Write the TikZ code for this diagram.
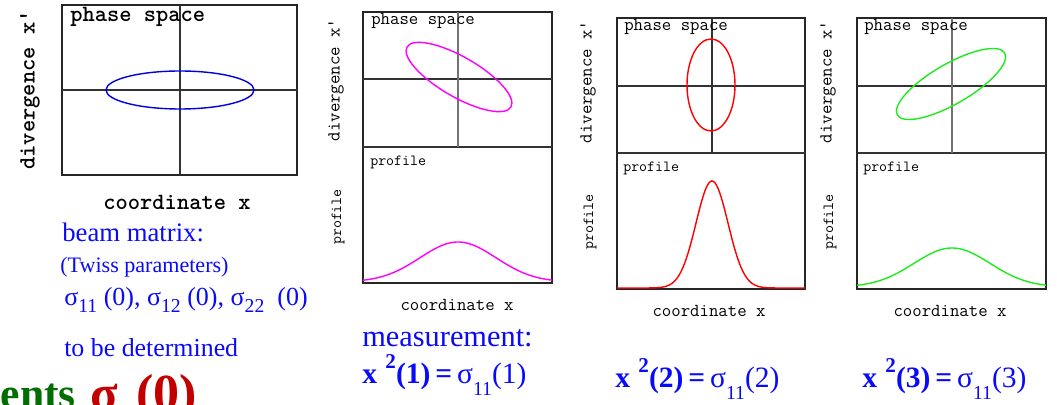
\documentclass[tikz,border=0pt]{standalone}
\usepackage{fontspec}
\setmainfont{Liberation Serif}
\definecolor{txtblue}{RGB}{10,10,250}
\definecolor{ellblue}{RGB}{0,0,225}
\definecolor{lmagenta}{RGB}{255,0,255}
\definecolor{lred}{RGB}{255,0,0}
\definecolor{lgreen}{RGB}{30,235,30}
\definecolor{dgreen}{RGB}{0,110,0}
\definecolor{dred}{RGB}{195,0,0}
\newcommand{\lowsub}[2]{\raisebox{-#1}{\fontsize{14}{14}\selectfont #2}}
\newcommand{\msform}[1]{{\bfseries x\hspace{6pt}\raisebox{11pt}{\fontsize{15}{15}\selectfont 2}(#1)\,=\,}σ\lowsub{8pt}{11}(#1)}

\begin{document}
\begin{tikzpicture}[x=0.025cm,y=-0.025cm,
  frame/.style={draw=black!85,line width=0.8pt},
  ax/.style={draw=black!80,line width=0.8pt},
  lightax/.style={draw=black!55,line width=0.8pt},
  curve/.style={line width=1pt},
  biglab/.style={font=\ttfamily\bfseries\fontsize{16.6}{18}\selectfont,inner sep=0pt},
  lab/.style={font=\ttfamily\fontsize{13}{15}\selectfont,inner sep=0pt},
  smlab/.style={font=\ttfamily\fontsize{11}{13}\selectfont,inner sep=0pt},
  bluetxt/.style={text=txtblue,inner sep=0pt,anchor=west},
  formula/.style={text=txtblue,inner sep=0pt,anchor=base west,font=\fontsize{21}{23}\selectfont}]

\useasboundingbox (0,0) rectangle (1057,405);
\clip (0,0) rectangle (1057,405);

\draw[frame] (62,5) rectangle (297,175);
\draw[ax] (180,5) -- (180,175);
\draw[ax] (62,90) -- (297,90);
\draw[curve,draw=ellblue] (180,90) ellipse (74 and 19);

\node[biglab,anchor=west] (ps0) at (70,17) {phase space};
\node[biglab,rotate=90] (dv0) at (30,90) {divergence x\textquotesingle};
\node[biglab] (cx0) at (177,202) {coordinate x};

\node[bluetxt,font=\fontsize{19}{22}\selectfont] (bm) at (62,232) {beam matrix:};
\node[bluetxt,font=\fontsize{15.7}{18}\selectfont] (tw) at (60,267) {(Twiss parameters)};
\node[bluetxt,font=\fontsize{18.5}{22}\selectfont] (sg) at (64,300) {σ\lowsub{5pt}{11} (0), σ\lowsub{5pt}{12} (0), σ\lowsub{5pt}{22}\ \ (0)};
\node[bluetxt,font=\fontsize{18.4}{21}\selectfont] (tbd) at (64,348) {to be determined};

\node[text=dgreen,inner sep=0pt,anchor=base east,font=\bfseries\fontsize{31}{34}\selectfont] (ents) at (76,408) {ents};
\node[text=dred,inner sep=0pt,anchor=base west,font=\bfseries\fontsize{36}{38}\selectfont] (sgr) at (90,410) {σ};
\node[text=dred,inner sep=0pt,anchor=base west,font=\bfseries\fontsize{37}{40}\selectfont] (zr) at (136,410) {(0)};

\draw[frame] (363,12) rectangle (552,283);
\draw[ax] (363,147) -- (552,147);
\draw[ax] (363,79) -- (552,79);
\draw[lightax] (458,12) -- (458,147);
\draw[curve,lmagenta,rotate around={-30:(459,77)}] (459,77) ellipse (60 and 20);
\draw[curve,lmagenta] plot[domain=363:552,samples=90] (\x,{282-40*exp(-0.5*((\x-458)/38)^2)});

\node[lab,anchor=west] (ps1) at (371,21) {phase space};
\node[smlab,anchor=west] (pf1) at (370,162) {profile};
\node[lab,rotate=90] (dv1) at (336,80) {divergence x\textquotesingle};
\node[smlab,rotate=90] (pr1) at (338,217) {profile};
\node[lab] (cx1) at (457,305) {coordinate x};
\node[bluetxt,font=\fontsize{21.6}{24}\selectfont] (ms) at (362,338) {measurement:};
\node[formula] (f1) at (362,384) {\msform{1}};

\draw[frame] (617,18) rectangle (805,289);
\draw[ax] (617,153) -- (805,153);
\draw[ax] (617,86) -- (805,86);
\draw[ax] (712,18) -- (712,153);
\draw[curve,lred] (711,85) ellipse (24 and 46);
\draw[curve,lred] plot[domain=617:805,samples=120] (\x,{288-107*exp(-0.5*((\x-712)/16)^2)});

\node[lab,anchor=west] (ps2) at (624,27) {phase space};
\node[smlab,anchor=west] (pf2) at (623,168) {profile};
\node[lab,rotate=90] (dv2) at (588,82) {divergence x\textquotesingle};
\node[smlab,rotate=90] (pr2) at (590,222) {profile};
\node[lab] (cx2) at (709,311) {coordinate x};
\node[formula] (f2) at (615,388) {\msform{2}};

\draw[frame] (857,18) rectangle (1046,289);
\draw[ax] (857,153) -- (1046,153);
\draw[ax] (857,86) -- (1046,86);
\draw[lightax] (952,18) -- (952,153);
\draw[curve,lgreen,rotate around={30:(951,84)}] (951,84) ellipse (62 and 20);
\draw[curve,lgreen] plot[domain=857:1046,samples=90] (\x,{287-39*exp(-0.5*((\x-952)/38)^2)});

\node[lab,anchor=west] (ps3) at (864,27) {phase space};
\node[smlab,anchor=west] (pf3) at (863,168) {profile};
\node[lab,rotate=90] (dv3) at (828,82) {divergence x\textquotesingle};
\node[smlab,rotate=90] (pr3) at (830,222) {profile};
\node[lab] (cx3) at (950,311) {coordinate x};
\node[formula] (f3) at (862,388) {\msform{3}};
\end{tikzpicture}
\end{document}
